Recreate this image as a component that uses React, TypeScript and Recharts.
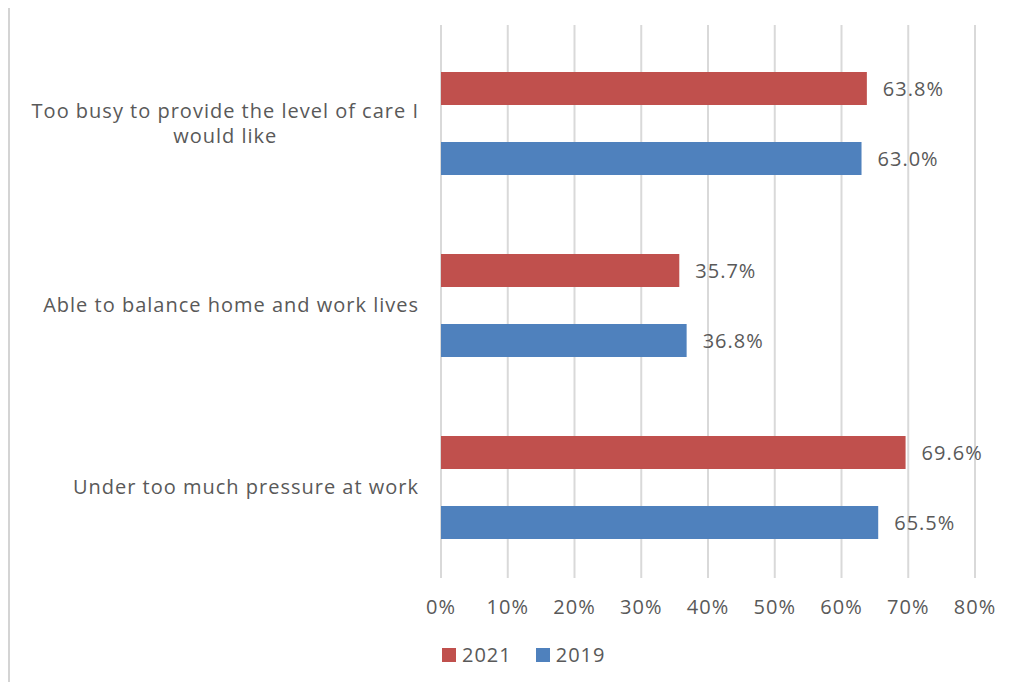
import React from "react";
import { BarChart, Bar, XAxis, YAxis, CartesianGrid, Legend, LabelList } from "recharts";

const categories = [
  "Too busy to provide the level of care I would like",
  "Able to balance home and work lives",
  "Under too much pressure at work",
];
const values2021 = [63.8, 35.7, 69.6];
const values2019 = [63.0, 36.8, 65.5];
const xTicks = [0, 10, 20, 30, 40, 50, 60, 70, 80];
const seriesNames = ["2021", "2019"];
const seriesColors = ["#C0504D", "#4F81BD"];

const data = categories.map((c, i) => ({ cat: c, v2021: values2021[i], v2019: values2019[i] }));

const FONT = "'Open Sans', sans-serif";
const FS = 20;
const LS = 1.0;
const GRAY = "#595959";

let ctx: CanvasRenderingContext2D | null = null;
function measure(s: string): number {
  if (!ctx) {
    const c = document.createElement("canvas");
    ctx = c.getContext("2d");
  }
  if (!ctx) return s.length * 11;
  ctx.font = `${FS}px 'Open Sans'`;
  return ctx.measureText(s).width + s.length * LS;
}

function wrap(s: string, maxW: number): string[] {
  const words = s.split(" ");
  const lines: string[] = [];
  let cur = "";
  for (const w of words) {
    const t = cur ? cur + " " + w : w;
    if (measure(t) > maxW && cur) {
      lines.push(cur);
      cur = w;
    } else cur = t;
  }
  if (cur) lines.push(cur);
  return lines;
}

function CatTick(props: any) {
  const { x, y, payload } = props;
  const lines = wrap(String(payload.value), 425);
  const blockW = Math.max(...lines.map(measure));
  const right = x - 14;
  const cx = right - blockW / 2;
  const lh = 25;
  const startY = y - ((lines.length - 1) * lh) / 2;
  return (
    <text textAnchor="middle" fill={GRAY} fontSize={FS} fontFamily={FONT} letterSpacing={LS}>
      {lines.map((l, i) => (
        <tspan key={i} x={cx} y={startY + i * lh} dy="0.35em">
          {l}
        </tspan>
      ))}
    </text>
  );
}

function LegendContent() {
  return (
    <div style={{ display: "flex", alignItems: "center", fontFamily: FONT, fontSize: FS, color: GRAY, letterSpacing: LS }}>
      {seriesNames.map((n, i) => (
        <div key={n} style={{ display: "flex", alignItems: "center", marginRight: 24 }}>
          <div style={{ width: 14, height: 14, background: seriesColors[i], marginRight: 6 }} />
          <span>{n}</span>
        </div>
      ))}
    </div>
  );
}

const fmt = (v: any) => `${Number(v).toFixed(1)}%`;

export default function App() {
  return (
    <div
      style={{
        marginTop: -3,
        marginLeft: -1,
        width: 1020,
        height: 690,
        borderTop: "3px solid #dadada",
        borderLeft: "3px solid #d4d4d4",
        background: "#fff",
        fontFamily: FONT,
      }}
    >
      <BarChart
        width={1008}
        height={674}
        data={data}
        layout="vertical"
        margin={{ top: 17, right: 43, left: 0, bottom: 34 }}
        barSize={33}
        barGap={37}
      >
        <CartesianGrid horizontal={false} vertical={true} stroke="#d9d9d9" strokeWidth={2} />
        <XAxis
          type="number"
          domain={[0, 80]}
          ticks={xTicks}
          tickFormatter={(v) => `${v}%`}
          axisLine={false}
          tickLine={false}
          tickMargin={16}
          height={40}
          tick={{ fill: GRAY, fontSize: FS, fontFamily: FONT, letterSpacing: LS }}
          interval={0}
        />
        <YAxis
          type="category"
          dataKey="cat"
          width={431}
          axisLine={false}
          tickLine={false}
          tick={<CatTick />}
          padding={{ top: 7, bottom: 0 }}
          interval={0}
        />
        <Legend
          verticalAlign="bottom"
          content={<LegendContent />}
          wrapperStyle={{ position: "absolute", top: 633, left: 432, height: 30, width: 400 }}
        />
        <Bar dataKey="v2021" name="2021" fill={seriesColors[0]} isAnimationActive={false}>
          <LabelList dataKey="v2021" position="right" offset={16} formatter={fmt} fill={GRAY} fontSize={FS} fontFamily={FONT} letterSpacing={LS} />
        </Bar>
        <Bar dataKey="v2019" name="2019" fill={seriesColors[1]} isAnimationActive={false}>
          <LabelList dataKey="v2019" position="right" offset={16} formatter={fmt} fill={GRAY} fontSize={FS} fontFamily={FONT} letterSpacing={LS} />
        </Bar>
      </BarChart>
    </div>
  );
}
